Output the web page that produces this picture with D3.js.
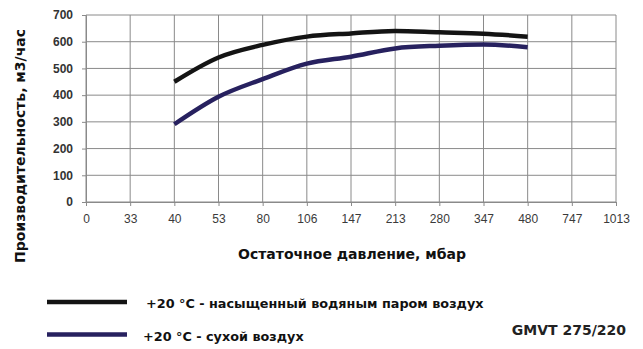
<!DOCTYPE html>
<html>
<head>
<meta charset="utf-8">
<script src="https://d3js.org/d3.v7.min.js"></script>
<style>
  body { margin: 0; background: #fff; }
  svg { font-family: "DejaVu Sans", sans-serif; }
</style>
</head>
<body>
<div id="chart"></div>
<script>
// Pressure categories (mbar) shown on the x axis
const pressures = ["0", "33", "40", "53", "80", "106", "147", "213", "280", "347", "480", "747", "1013"];
const yTicks = [0, 100, 200, 300, 400, 500, 600, 700];

// Capacity, m3/h
const saturatedX = ["40", "53", "80", "106", "147", "213", "280", "347", "480"];
const saturatedY = [450, 541, 588, 619, 631, 640, 635, 630, 619];
const dryX = ["40", "53", "80", "106", "147", "213", "280", "347", "480"];
const dryY = [291, 394, 460, 518, 544, 575, 585, 590, 579];

const seriesNames = ["+20 °C - насыщенный водяным паром воздух", "+20 °C - сухой воздух"];
const seriesColors = ["#141414", "#27215f"];

const width = 643, height = 349;
const margin = { top: 15, right: 27, bottom: 147, left: 86 };

const svg = d3.select("#chart").append("svg")
    .attr("width", width)
    .attr("height", height);

const x = d3.scalePoint()
    .domain(pressures)
    .range([margin.left, width - margin.right]);

const y = d3.scaleLinear()
    .domain([0, 700])
    .range([height - margin.bottom, margin.top]);

// Grid
svg.append("g")
    .selectAll("line")
    .data(pressures)
    .join("line")
    .attr("x1", d => x(d)).attr("x2", d => x(d))
    .attr("y1", y(0)).attr("y2", y(700))
    .attr("stroke", "#8a8a8a")
    .attr("stroke-width", 1);

svg.append("g")
    .selectAll("line")
    .data(yTicks)
    .join("line")
    .attr("x1", x.range()[0]).attr("x2", x.range()[1])
    .attr("y1", d => y(d)).attr("y2", d => y(d))
    .attr("stroke", "#8a8a8a")
    .attr("stroke-width", 1);

// Axes
const xAxis = svg.append("g")
    .attr("transform", `translate(0,${y(0)})`)
    .call(d3.axisBottom(x).tickSize(4).tickPadding(8));
xAxis.select(".domain").attr("stroke", "#8a8a8a");
xAxis.selectAll(".tick line").attr("stroke", "#8a8a8a");
xAxis.selectAll("text").attr("fill", "#3a3a3a").style("font-size", "12px");

const yAxis = svg.append("g")
    .attr("transform", `translate(${margin.left},0)`)
    .call(d3.axisLeft(y).tickValues(yTicks).tickSize(4).tickPadding(9));
yAxis.select(".domain").attr("stroke", "#8a8a8a");
yAxis.selectAll(".tick line").attr("stroke", "#8a8a8a");
yAxis.selectAll("text").attr("fill", "#333").style("font-size", "12px").style("font-weight", "bold");

// Lines
const line = d3.line()
    .x(d => x(d[0]))
    .y(d => y(d[1]))
    .curve(d3.curveMonotoneX);

const series = [
    d3.zip(saturatedX, saturatedY),
    d3.zip(dryX, dryY)
];

svg.append("g")
    .selectAll("path")
    .data(series)
    .join("path")
    .attr("d", d => line(d))
    .attr("fill", "none")
    .attr("stroke", (d, i) => seriesColors[i])
    .attr("stroke-width", 4.5)
    .attr("stroke-linecap", "butt");

// Axis titles
svg.append("text")
    .attr("x", 352)
    .attr("y", 259)
    .attr("text-anchor", "middle")
    .style("font-size", "14px")
    .style("font-weight", "bold")
    .attr("fill", "#111")
    .text("Остаточное давление, мбар");

svg.append("text")
    .attr("transform", "rotate(-90)")
    .attr("x", -146)
    .attr("y", 25)
    .attr("text-anchor", "middle")
    .style("font-size", "14px")
    .style("font-weight", "bold")
    .attr("fill", "#111")
    .text("Производительность, м3/час");

// Legend
const legend = svg.append("g")
    .selectAll("g")
    .data(seriesNames)
    .join("g")
    .attr("transform", (d, i) => `translate(47,${302 + i * 32.5})`);

legend.append("line")
    .attr("x1", 0).attr("x2", 80)
    .attr("stroke", (d, i) => seriesColors[i])
    .attr("stroke-width", 4.5);

legend.append("text")
    .attr("x", (d, i) => i === 0 ? 99 : 96)
    .attr("y", 6)
    .style("font-size", "12.8px")
    .style("font-weight", "bold")
    .attr("fill", "#111")
    .text(d => d);

svg.append("text")
    .attr("x", 626)
    .attr("y", 335)
    .attr("text-anchor", "end")
    .style("font-size", "14px")
    .style("font-weight", "bold")
    .attr("fill", "#222")
    .text("GMVT 275/220");
</script>
</body>
</html>
